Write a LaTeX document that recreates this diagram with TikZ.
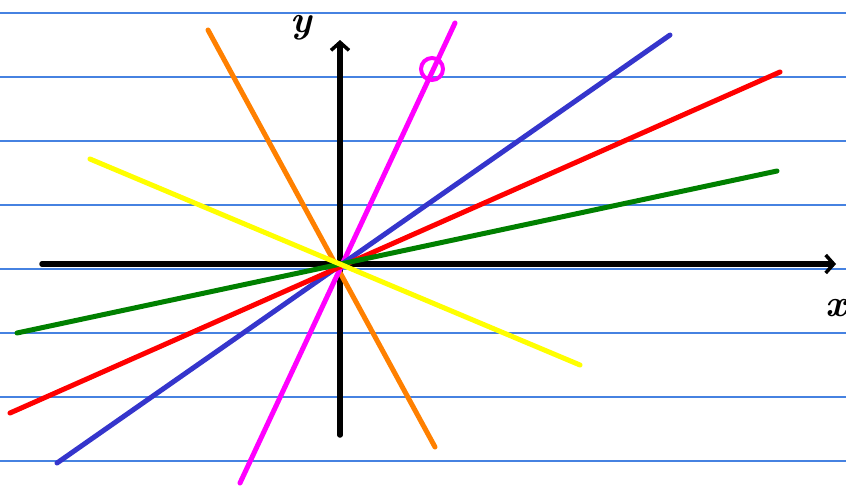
\documentclass[tikz,border=0pt]{standalone}
\usetikzlibrary{arrows.meta}
\definecolor{ruleblue}{RGB}{70,130,225}
\definecolor{lorange}{HTML}{FF8000}
\definecolor{lmag}{HTML}{FF00FF}
\definecolor{lblue}{HTML}{3535CC}
\definecolor{lred}{HTML}{FF0000}
\definecolor{lgreen}{HTML}{008000}
\definecolor{lyellow}{HTML}{FFFF00}
\tikzset{
  ruleline/.style={draw=ruleblue, line width=1.2pt},
  axis/.style={black, line width=5.5pt, line cap=round, -{Straight Barb[length=8pt,width=18pt,line width=3.5pt]}},
  graph/.style={line width=5pt, line cap=round},
  lab/.style={font=\fontsize{38}{38}\selectfont\bfseries, inner sep=0pt}
}
\begin{document}
\begin{tikzpicture}[x=1pt,y=-1pt]
\useasboundingbox (0,0) rectangle (846,488);
\foreach \yy in {13,77,141,205,269,333,397,461}
  \draw[ruleline] (0,\yy) -- (846,\yy);
\coordinate (O) at (340,264);
\coordinate (xl) at (42,264);
\coordinate (xr) at (836,264);
\coordinate (yb) at (340,435);
\coordinate (yt) at (340,40);
\draw[axis] (xl) -- (xr);
\draw[axis] (yb) -- (yt);
\draw[graph, lorange] (208,30) -- (435,447);
\draw[graph, lmag] (455,23) -- (240,483);
\draw[lmag, line width=4pt] (432,69) circle (11);
\draw[graph, lblue] (670,35) -- (57,463);
\draw[graph, lred] (780,72) -- (10,413);
\draw[graph, lgreen] (777,171) -- (17,333);
\draw[graph, lyellow] (90,159) -- (580,365);
\node[lab] (ylab) at (301,28) {\itshape y};
\node[lab] (xlab) at (836,308) {\itshape x};
\end{tikzpicture}
\end{document}
